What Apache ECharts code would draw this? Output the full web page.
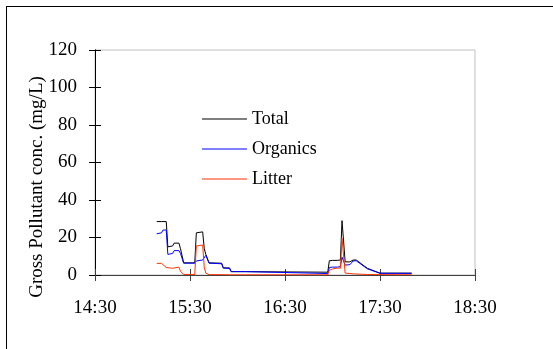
<!DOCTYPE html>
<html>
<head>
<meta charset="utf-8">
<script src="https://cdn.jsdelivr.net/npm/echarts@6/dist/echarts.min.js"></script>
<style>
  html, body { margin: 0; padding: 0; background: #fff; }
  #frame { position: absolute; left: 6px; top: 6px; width: 600px; height: 400px;
           border-left: 1px solid #000; border-top: 1px solid #000; }
  #chart { position: absolute; left: 0; top: 0; width: 553px; height: 349px; }
</style>
</head>
<body>
<div id="frame"></div>
<div id="chart"></div>
<script>
// Sampling times (clock time, same day)
const times = [
  '15:09','15:12','15:13','15:15','15:16','15:19','15:20','15:23','15:24','15:25',
  '15:26','15:33','15:34','15:38','15:39','15:40','15:41','15:42','15:50','15:51',
  '15:55','15:56','16:05','16:06','16:57','16:58','17:00','17:01','17:03','17:05',
  '17:06','17:07','17:08','17:11','17:13','17:15','17:22','17:30','17:50'
];
// Gross pollutant concentrations (mg/L)
const total = [
  28.5, 28.5, 28.5, 28.5, 15.0, 15.5, 17.0, 17.0, 14.0, 13.0,
  6.5, 6.5, 22.5, 23.0, 14.0, 11.0, 10.5, 6.5, 6.3, 3.8,
  3.8, 1.8, 1.8, 1.5, 1.5, 7.6, 7.8, 7.8, 7.8, 8.0,
  29.0, 29.0, 7.0, 7.0, 8.0, 8.0, 3.6, 1.0, 1.0
];
const organics = [
  22.0, 22.5, 24.0, 24.0, 11.0, 11.5, 13.0, 13.0, 11.5, 11.0,
  6.3, 6.3, 7.5, 8.0, 9.0, 10.5, 10.5, 6.3, 6.0, 3.7,
  3.5, 1.8, 1.8, 0.8, 0.8, 4.0, 4.2, 3.8, 4.2, 4.5,
  9.5, 9.5, 5.3, 5.5, 7.5, 7.6, 3.3, 0.9, 0.9
];
const litter = [
  6.2, 6.2, 5.5, 4.0, 3.6, 3.6, 4.0, 4.2, 2.0, 1.8,
  0.3, 0.3, 15.5, 16.0, 4.0, 1.0, 0.3, 0.2, 0.2, 0.1,
  0.1, 0.1, 0.1, 0.1, 0.1, 2.5, 3.2, 2.7, 3.7, 3.6,
  19.5, 19.5, 1.0, 0.8, 0.6, 0.5, 0.3, 0.2, 0.1
];
const xTickLabels = ['14:30', '15:30', '16:30', '17:30', '18:30'];
const yTicks = [0, 20, 40, 60, 80, 100, 120];
const yTitle = 'Gross Pollutant conc. (mg/L)';

// minutes elapsed since the first axis tick
const toMin = s => { const [h, m] = s.split(':').map(Number); return h * 60 + m; };
const origin = toMin(xTickLabels[0]);
const xs = times.map(t => toMin(t) - origin);
const pairs = vals => xs.map((x, i) => [x, vals[i]]);

const FONT = '"Liberation Serif", "Times New Roman", serif';
const xMax = toMin(xTickLabels[xTickLabels.length - 1]) - origin;

const chart = echarts.init(document.getElementById('chart'), null, { renderer: 'canvas' });
const baseX = {
  type: 'value', min: 0, max: xMax, interval: 60, position: 'bottom',
  splitLine: { show: false },
  axisLine: { show: true, lineStyle: { color: '#404040', width: 1 } }
};
const baseY = {
  type: 'value', min: yTicks[0], max: yTicks[yTicks.length - 1], interval: 20, position: 'left',
  splitLine: { show: false },
  axisLine: { show: true, lineStyle: { color: '#000', width: 1 } }
};
chart.setOption({
  animation: false,
  backgroundColor: 'transparent',
  grid: { left: 95, top: 50, right: 78, bottom: 74, show: true,
          borderColor: '#c0c0c0', borderWidth: 1, containLabel: false },
  // vertical axis title
  graphic: [{
    type: 'text', x: 37, y: 187, rotation: Math.PI / 2,
    style: { text: yTitle, fontFamily: FONT, fontSize: 19, fill: '#000',
             align: 'center', verticalAlign: 'middle' }
  }],
  xAxis: [
    Object.assign({}, baseX, {
      axisTick: { show: true, length: 6, lineStyle: { color: '#404040' } },
      axisLabel: { margin: 24, fontFamily: FONT, fontSize: 19, color: '#000',
                   formatter: v => xTickLabels[Math.round(v / 60)] }
    }),
    Object.assign({}, baseX, {
      axisTick: { show: true, inside: true, length: 6, lineStyle: { color: '#404040' } },
      axisLabel: { show: false }
    })
  ],
  yAxis: [
    Object.assign({}, baseY, {
      axisTick: { show: true, length: 6, lineStyle: { color: '#000' } },
      axisLabel: { margin: 18, fontFamily: FONT, fontSize: 19, color: '#000' }
    }),
    Object.assign({}, baseY, {
      axisTick: { show: true, inside: true, length: 6, lineStyle: { color: '#000' } },
      axisLabel: { show: false }
    })
  ],
  legend: {
    orient: 'vertical', left: 202, top: 110, itemGap: 12, padding: 0,
    itemWidth: 45, itemHeight: 1, icon: 'rect',
    textStyle: { fontFamily: FONT, fontSize: 18, color: '#000' },
    data: ['Total', 'Organics', 'Litter']
  },
  series: [
    { name: 'Total', type: 'line', data: pairs(total), symbol: 'none',
      color: '#000000', lineStyle: { width: 1, color: '#000000' } },
    { name: 'Organics', type: 'line', data: pairs(organics), symbol: 'none',
      color: '#0000ff', lineStyle: { width: 1, color: '#0000ff' } },
    { name: 'Litter', type: 'line', data: pairs(litter), symbol: 'none',
      color: '#ff3300', lineStyle: { width: 1, color: '#ff3300' } }
  ]
});
</script>
</body>
</html>
